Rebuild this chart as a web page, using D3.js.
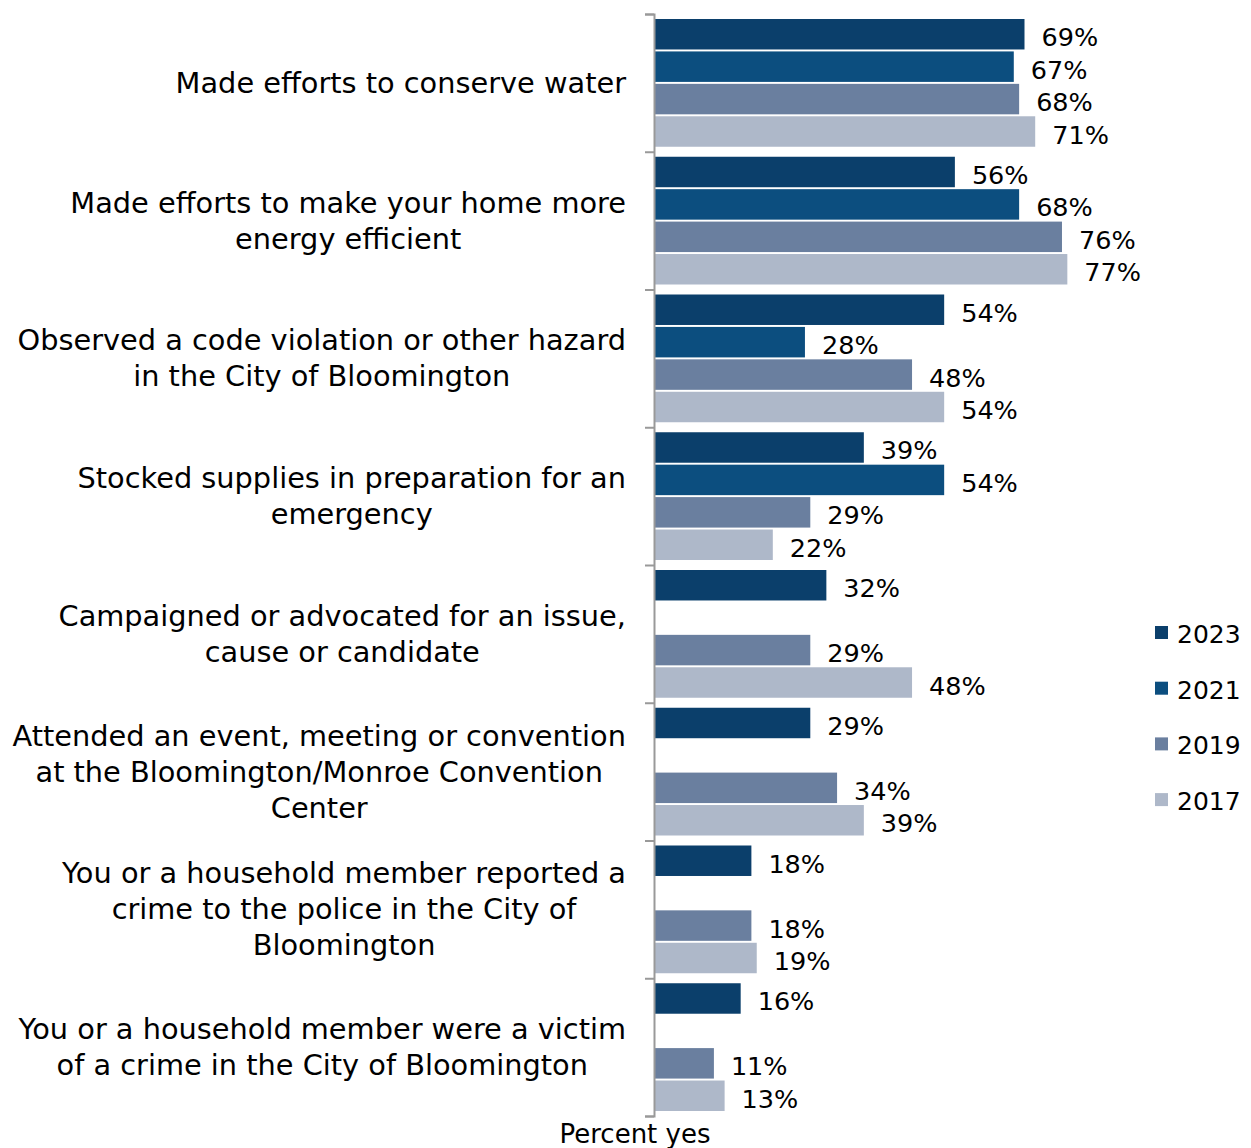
<!DOCTYPE html>
<html><head><meta charset="utf-8">
<script src="https://cdn.jsdelivr.net/npm/d3@7"></script>
<style>body{margin:0;background:#fff;} text{font-family:"DejaVu Sans",sans-serif;fill:#000;}</style>
</head><body>
<svg id="c" width="1251" height="1148"></svg>
<script>
const categories = [
  ["Made efforts to conserve water"],
  ["Made efforts to make your home more","energy efficient"],
  ["Observed a code violation or other hazard","in the City of Bloomington"],
  ["Stocked supplies in preparation for an","emergency"],
  ["Campaigned or advocated for an issue,","cause or candidate"],
  ["Attended an event, meeting or convention","at the Bloomington/Monroe Convention","Center"],
  ["You or a household member reported a","crime to the police in the City of","Bloomington"],
  ["You or a household member were a victim","of a crime in the City of Bloomington"]
];
const years = ["2023","2021","2019","2017"];
const v2023 = [69,56,54,39,32,29,18,16];
const v2021 = [67,68,28,54,null,null,null,null];
const v2019 = [68,76,48,29,29,34,18,11];
const v2017 = [71,77,54,22,48,39,19,13];
const colors = ["#0b3f6b","#0c4e7f","#6a7f9f","#aeb8c9"];

const series = [v2023,v2021,v2019,v2017];
const svg = d3.select("#c");
const x0 = 655;
const x = d3.scaleLinear().domain([0,100]).range([x0, x0+535.5]);
const y = d3.scaleBand().domain(d3.range(categories.length)).range([14,1116]).paddingInner(0).paddingOuter(0);
const ySub = d3.scaleBand().domain(years).range([5, y.bandwidth()-5]).paddingInner(0.06);

const g = svg.append("g");
categories.forEach((cat,i)=>{
  years.forEach((yr,j)=>{
    const v = series[j][i];
    if (v==null) return;
    const by = y(i)+ySub(yr);
    g.append("rect").attr("x",x(0)).attr("y",by).attr("width",x(v)-x(0)).attr("height",ySub.bandwidth()).attr("fill",colors[j]);
    g.append("text").attr("x",x(v)+17).attr("y",by+ySub.bandwidth()/2+12).attr("font-size",25.5).text(v+"%");
  });
});

// axis
const axis = d3.axisLeft(d3.scaleLinear().domain([0,categories.length]).range([14,1116]))
  .tickValues(d3.range(categories.length+1)).tickSize(9).tickFormat("");
const ax = svg.append("g").attr("transform",`translate(${x0-1},0)`).call(axis);
ax.select(".domain").attr("stroke","#999").attr("stroke-width",2);
ax.selectAll(".tick line").attr("stroke","#999").attr("stroke-width",2);

// category labels
const labelRight = 626, lh = 36;
categories.forEach((lines,i)=>{
  const cy = y(i)+y.bandwidth()/2;
  const tg = svg.append("g");
  const ts = lines.map((l,k)=>tg.append("text").attr("font-size",28.8).attr("text-anchor","middle")
     .attr("y", cy + (k-(lines.length-1)/2)*lh + 10).text(l));
  const w = d3.max(ts, t=>t.node().getComputedTextLength());
  ts.forEach(t=>t.attr("x", labelRight - w/2));
});

// legend
years.forEach((yr,j)=>{
  const ly = 633 + j*55.7;
  svg.append("rect").attr("x",1155).attr("y",ly-7).attr("width",13).attr("height",13).attr("fill",colors[j]);
  svg.append("text").attr("x",1177).attr("y",ly+10).attr("font-size",25).text(yr);
});

svg.append("text").attr("x",635).attr("y",1143).attr("text-anchor","middle").attr("font-size",26).text("Percent yes");
</script>
</body></html>
